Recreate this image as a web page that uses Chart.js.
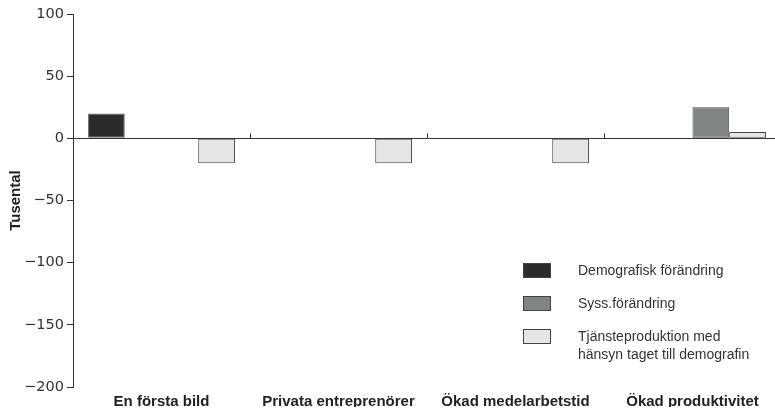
<!DOCTYPE html>
<html lang="sv">
<head>
    <meta charset="UTF-8">
    <title>Tusental</title>
    <script src="https://cdn.jsdelivr.net/npm/chart.js"></script>
    <style>
        body { margin: 0; background: #fff; font-family: "Liberation Sans", Arial, sans-serif; }
        .wrap { position: relative; width: 775px; height: 414px; overflow: hidden; }
        .wrap canvas { display: block; }
        .legend { position: absolute; left: 523px; top: 261px; color: #333; font-size: 14px; line-height: 18px; }
        .legend .row { position: relative; height: 33px; }
        .legend .box { position: absolute; left: 0; top: 2px; width: 26px; height: 13px; border: 1px solid #444; }
        .legend .txt { position: absolute; left: 55px; top: 0; white-space: nowrap; }
    </style>
</head>
<body>
<div class="wrap">
    <!-- canvas a bit wider than the window: the last category runs past the right edge -->
    <canvas id="chart" width="781" height="414"></canvas>
    <div class="legend" id="legend"></div>
</div>
<script>
    const categories = ['En första bild', 'Privata entreprenörer', 'Ökad medelarbetstid', 'Ökad produktivitet'];
    const demografisk = [20, null, null, null];
    const tom = [null, null, null, null];  // empty slot between black and grey bars
    const syss = [0, 0, 0, 25];
    const tjanst = [-20, -20, -20, 5];
    const seriesNames = ['Demografisk förändring', 'Syss.förändring', ['Tjänsteproduktion med', 'hänsyn taget till demografin']];
    const seriesColors = ['#2b2b2b', '#808485', '#e4e5e6'];
    const yTicks = { min: -200, max: 100, step: 50 };

    // small upward ticks on the zero line between categories
    const boundaryTicks = {
        id: 'boundaryTicks',
        afterDatasetsDraw(chart) {
            const x = chart.scales.x, y = chart.scales.y, c = chart.ctx;
            const y0 = y.getPixelForValue(0);
            c.save();
            c.strokeStyle = '#333';
            c.lineWidth = 1;
            for (let i = 1; i < categories.length; i++) {
                const px = Math.round((x.getPixelForValue(i - 1) + x.getPixelForValue(i)) / 2) + 0.5;
                c.beginPath();
                c.moveTo(px, y0);
                c.lineTo(px, y0 - 5);
                c.stroke();
            }
            c.restore();
        }
    };

    new Chart(document.getElementById('chart'), {
        type: 'bar',
        data: {
            labels: categories,
            datasets: [
                { label: 'Demografisk förändring', data: demografisk, backgroundColor: seriesColors[0], borderColor: '#666', borderWidth: 1 },
                { label: '', data: tom, backgroundColor: 'transparent', borderWidth: 0 },
                { label: 'Syss.förändring', data: syss, backgroundColor: seriesColors[1], borderColor: '#444', borderWidth: 1 },
                { label: 'Tjänsteproduktion med hänsyn taget till demografin', data: tjanst, backgroundColor: seriesColors[2], borderColor: '#444', borderWidth: 1 }
            ]
        },
        options: {
            responsive: false,
            animation: false,
            layout: { padding: { top: 14, right: 0, bottom: 7, left: 0 } },
            datasets: { bar: { categoryPercentage: 0.83, barPercentage: 1.0, borderSkipped: false } },
            plugins: { legend: { display: false }, tooltip: { enabled: false } },
            scales: {
                x: {
                    grid: { display: false, drawTicks: false },
                    border: { display: false },
                    ticks: {
                        color: '#222', padding: 6,
                        font: { family: '"Liberation Sans Narrow", "Liberation Sans", Arial', size: 15, weight: 'bold' },
                        maxRotation: 0, autoSkip: false
                    },
                    afterFit(s) { s.height = 20; }
                },
                y: {
                    min: yTicks.min, max: yTicks.max,
                    ticks: {
                        stepSize: yTicks.step, color: '#333', padding: 3,
                        font: { family: '"DejaVu Sans", Verdana, sans-serif', size: 14.5 },
                        callback: v => String(v).replace('-', '\u2212')
                    },
                    grid: {
                        drawTicks: true, tickLength: 6, tickColor: '#333',
                        color: ctx => (ctx.tick && ctx.tick.value === 0) ? '#333' : 'rgba(0,0,0,0)',
                        lineWidth: 1
                    },
                    border: { display: true, color: '#333', width: 1 },
                    title: {
                        display: true, text: 'Tusental', color: '#222',
                        font: { family: '"Liberation Sans", Arial', size: 15, weight: 'bold' },
                        padding: { top: 7, bottom: 0 }
                    },
                    afterFit(s) { s.width = 73; }
                }
            }
        },
        plugins: [boundaryTicks]
    });

    // HTML legend (the third label runs over two lines)
    const legendEl = document.getElementById('legend');
    seriesNames.forEach((name, i) => {
        const row = document.createElement('div');
        row.className = 'row';
        const box = document.createElement('div');
        box.className = 'box';
        box.style.background = seriesColors[i];
        const txt = document.createElement('div');
        txt.className = 'txt';
        txt.innerHTML = [].concat(name).join('<br>');
        row.appendChild(box);
        row.appendChild(txt);
        legendEl.appendChild(row);
    });
</script>
</body>
</html>
